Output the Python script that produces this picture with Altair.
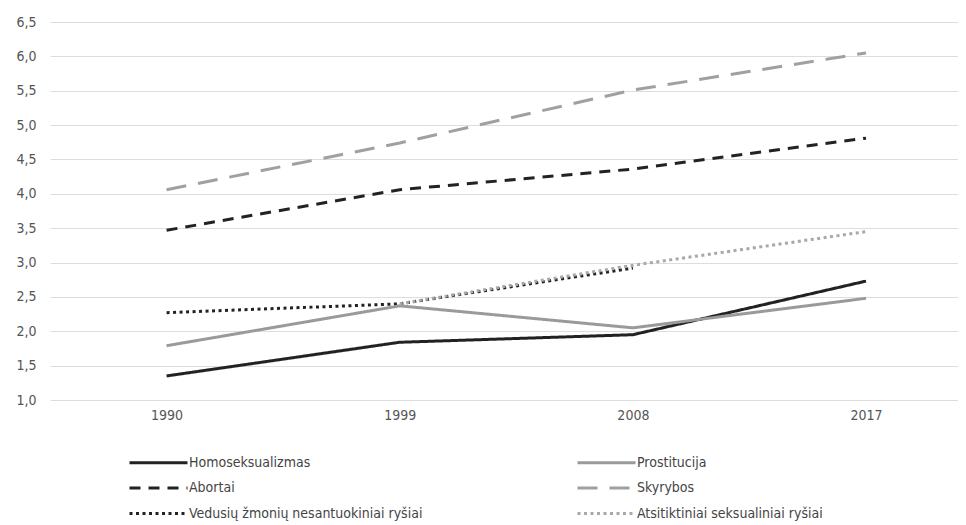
import altair as alt
import pandas as pd

years = [1990, 1999, 2008, 2017]
series = ["Homoseksualizmas", "Abortai", "Vedusių žmonių nesantuokiniai ryšiai",
          "Prostitucija", "Skyrybos", "Atsitiktiniai seksualiniai ryšiai"]
homoseksualizmas = [1.35, 1.84, 1.95, 2.73]
abortai = [3.47, 4.06, 4.36, 4.81]
vedusiu = [2.27, 2.40, 2.92, None]
prostitucija = [1.79, 2.37, 2.05, 2.48]
skyrybos = [4.06, 4.74, 5.51, 6.05]
atsitiktiniai = [None, 2.40, 2.96, 3.45]

colors = ["#222222", "#222222", "#222222", "#9a9a9a", "#a0a0a0", "#a8a8a8"]
dashes = [[1, 0], [11, 8], [3, 3.5], [1, 0], [20, 12], [3, 3.5]]

rows = []
for name, vals in zip(series, [homoseksualizmas, abortai, vedusiu, prostitucija, skyrybos, atsitiktiniai]):
    for y, v in zip(years, vals):
        if v is not None:
            rows.append({"metai": y, "reiksme": v, "serija": name})
df = pd.DataFrame(rows)

FONT = "'DejaVu Sans Condensed', 'Roboto', sans-serif"

chart = alt.Chart(df).mark_line(strokeWidth=3).encode(
    x=alt.X("metai:Q", scale=alt.Scale(domain=[1985.5, 2020.55], nice=False, zero=False),
            axis=alt.Axis(values=years, format="d", title=None, grid=False, domain=False,
                          ticks=False, labelPadding=8)),
    y=alt.Y("reiksme:Q", scale=alt.Scale(domain=[1.0, 6.5], nice=False, zero=False),
            axis=alt.Axis(values=[1.0 + 0.5 * i for i in range(12)], title=None, domain=False,
                          ticks=False, labelPadding=14,
                          labelExpr="replace(format(datum.value, '.1f'), '.', ',')")),
    color=alt.Color("serija:N", scale=alt.Scale(domain=series, range=colors),
                    sort=series,
                    legend=alt.Legend(title=None, orient="none", legendX=78, legendY=429,
                                      columns=2, columnPadding=148, rowPadding=6.5,
                                      symbolType="M-1,0H4.8", symbolSize=400,
                                      labelOffset=38,
                                      symbolStrokeWidth=3, labelLimit=400, direction="vertical")),
    strokeDash=alt.StrokeDash("serija:N", scale=alt.Scale(domain=series, range=dashes),
                              sort=series, legend=None),
    detail="serija:N",
).properties(
    width=908, height=378,
    autosize=alt.AutoSizeParams(type="none"),
    padding={"left": 42, "top": 14, "right": 0, "bottom": 125},
).configure_view(stroke=None).configure_axis(
    labelFont=FONT, labelFontSize=14, labelColor="#555555",
    gridColor="#dddddd", gridWidth=1,
).configure_legend(
    labelFont=FONT, labelFontSize=14, labelColor="#444444",
)

chart.save("out.html", embed_options={"renderer": "svg", "actions": False})
